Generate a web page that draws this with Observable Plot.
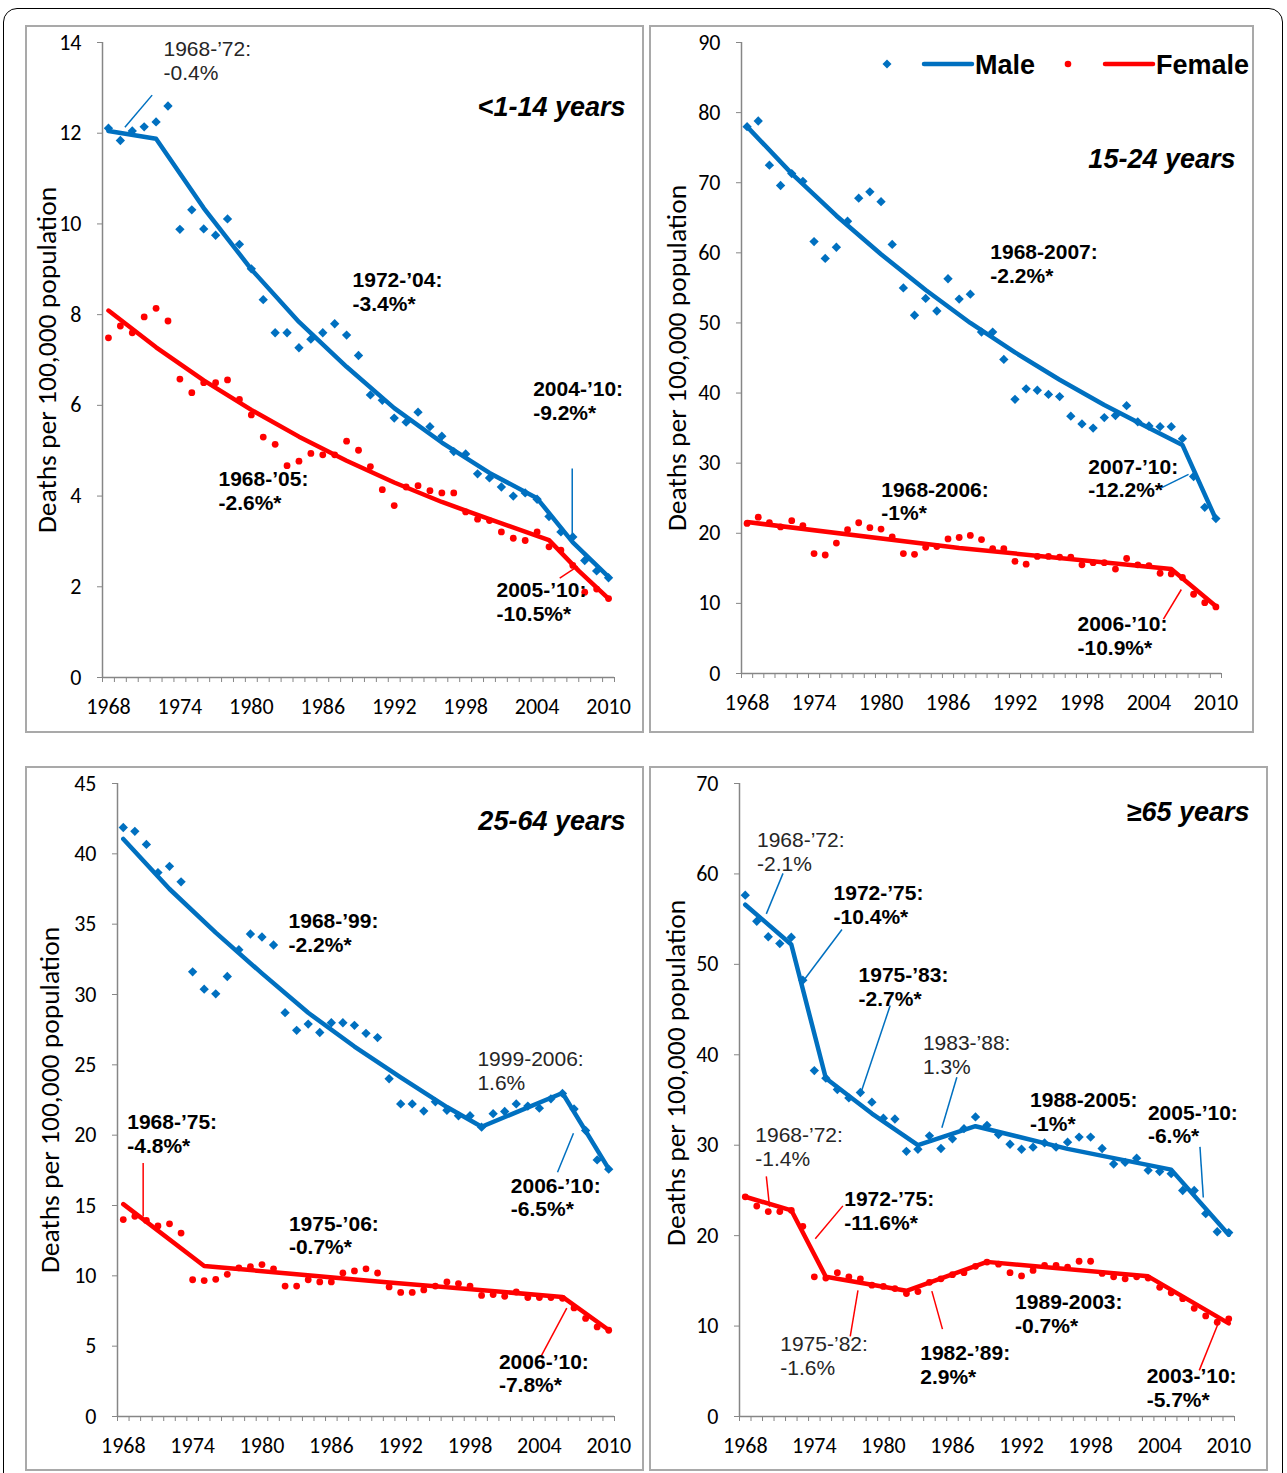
<!DOCTYPE html>
<html>
<head>
<meta charset="utf-8">
<script src="https://cdn.jsdelivr.net/npm/d3@7"></script>
<script src="https://cdn.jsdelivr.net/npm/@observablehq/plot@0.6"></script>
<style>
  body { margin: 0; background: #fff; }
  #fig { position: relative; width: 1287px; height: 1473px; overflow: hidden; background: #fff; }
  .outer { position: absolute; left: 3px; top: 8px; width: 1280px; height: 1500px; border: 1.5px solid #000; border-radius: 14px; box-sizing: border-box; }
  .panel { position: absolute; }
  .panel svg { position: absolute; left: 0; top: 0; }
  .frame { position: absolute; border: 2px solid #a9a9a9; box-sizing: border-box; pointer-events: none; }
  #legend { position: absolute; left: 860px; top: 44px; }
</style>
</head>
<body>
<div id="fig"><div class="outer"></div></div>
<script>
// ---------------- data ----------------
const years = d3.range(1968, 2011);
const xLabelYears = [1968, 1974, 1980, 1986, 1992, 1998, 2004, 2010];
const yAxisTitle = "Deaths per 100,000 population";

// Panel 1: <1-14 years
const male1 = [12.11,11.84,12.05,12.14,12.25,12.60,9.88,10.31,9.89,9.75,
  10.11,9.55,9.01,8.33,7.60,7.60,7.27,7.46,7.60,7.80,
  7.55,7.10,6.23,6.11,5.72,5.63,5.85,5.53,5.32,4.98,
  4.93,4.49,4.40,4.20,4.00,4.07,3.93,3.55,3.21,3.10,
  2.58,2.35,2.20];
const female1 = [7.49,7.75,7.60,7.95,8.14,7.86,6.58,6.28,6.50,6.50,
  6.56,6.13,5.79,5.30,5.14,4.67,4.77,4.94,4.91,4.91,
  5.21,5.01,4.65,4.14,3.79,4.20,4.23,4.12,4.07,4.07,
  3.65,3.49,3.46,3.21,3.07,3.02,3.21,2.88,2.81,2.47,
  1.88,1.95,1.74];
const fitMale1 = [[1968,12.05],[1972,11.88],[1976,10.35],[1980,9.0],[1984,7.84],[1988,6.85],[1992,5.94],[1996,5.18],[2000,4.51],[2004,3.95],[2007,2.98],[2010,2.22]];
const fitFemale1 = [[1968,8.09],[1972,7.28],[1976,6.55],[1980,5.90],[1984,5.31],[1988,4.78],[1992,4.30],[1996,3.87],[2000,3.49],[2005,3.03],[2007.5,2.35],[2010,1.74]];
const notes1 = [
  {x:1972.62, y:14.07, t:"1968-’72:\n-0.4%", b:false},
  {x:1988.5, y:8.99, t:"1972-’04:\n-3.4%*", b:true},
  {x:1977.24, y:4.59, t:"1968-’05:\n-2.6%*", b:true},
  {x:2003.67, y:6.59, t:"2004-’10:\n-9.2%*", b:true},
  {x:2000.59, y:2.14, t:"2005-’10:\n-10.5%*", b:true}
];
const leaders1 = [
  {x1:1971.67, y1:12.84, x2:1969.38, y2:12.13, s:"m"},
  {x1:2006.95, y1:4.61, x2:2006.95, y2:3.0, s:"m"},
  {x1:2005.9, y1:2.19, x2:2007.4, y2:2.45, s:"f"}
];

// Panel 2: 15-24 years
const male2 = [78.0,78.8,72.5,69.6,71.3,70.2,61.6,59.2,60.8,64.5,
  67.8,68.7,67.3,61.2,55.0,51.1,53.5,51.7,56.3,53.4,
  54.1,48.7,48.7,44.8,39.1,40.6,40.4,39.8,39.5,36.7,
  35.6,35.0,36.5,36.8,38.2,35.9,35.3,35.2,35.2,33.5,
  28.1,23.7,22.1];
const female2 = [21.4,22.3,21.5,20.9,21.8,21.1,17.1,16.9,18.6,20.5,
  21.5,20.8,20.6,19.5,17.1,17.0,18.0,18.1,19.2,19.4,
  19.7,19.1,17.8,17.8,16.0,15.6,16.7,16.7,16.6,16.6,
  15.5,15.8,15.8,14.9,16.4,15.5,15.4,14.3,14.2,13.7,
  11.3,10.1,9.5];
const fitMale2 = [[1968,78.0],[1972,71.3],[1976,65.3],[1980,59.8],[1984,54.7],[1988,50.0],[1992,45.8],[1996,41.9],[2000,38.3],[2004,35.0],[2007,32.6],[2010,22.0]];
const fitFemale2 = [[1968,21.6],[1987,17.9],[2006,14.9],[2010,9.6]];
const notes2 = [
  {x:1989.79, y:61.5, t:"1968-2007:\n-2.2%*", b:true},
  {x:1998.57, y:30.95, t:"2007-’10:\n-12.2%*", b:true},
  {x:1980.03, y:27.67, t:"1968-2006:\n-1%*", b:true},
  {x:1997.6, y:8.49, t:"2006-’10:\n-10.9%*", b:true}
];
const leaders2 = [
  {x1:2005.01, y1:26.4, x2:2007.55, y2:28.4, s:"m"},
  {x1:2005.3, y1:7.76, x2:2006.9, y2:11.98, s:"f"}
];

// Panel 3: 25-64 years
const male3 = [41.87,41.60,40.67,38.67,39.11,38.01,31.61,30.38,30.05,31.28,
  33.19,34.30,34.09,33.52,28.71,27.45,27.90,27.30,27.99,27.99,
  27.81,27.24,26.94,24.01,22.22,22.22,21.71,22.37,21.77,21.38,
  21.38,20.57,21.53,21.68,22.22,22.07,21.92,22.58,22.97,21.86,
  20.33,18.24,17.58];
const female3 = [14.0,14.23,13.94,13.55,13.70,13.04,9.72,9.66,9.75,10.11,
  10.56,10.65,10.80,10.50,9.27,9.27,9.72,9.57,9.57,10.20,
  10.35,10.50,10.20,9.21,8.82,8.82,9.00,9.27,9.57,9.45,
  9.27,8.61,8.67,8.55,8.85,8.46,8.46,8.46,8.40,7.72,
  6.97,6.37,6.13];
const fitMale3 = [[1968,41.06],[1972,37.5],[1976,34.4],[1980,31.5],[1984,28.7],[1988,26.3],[1992,24.1],[1996,22.0],[1999,20.6],[2006,23.0],[2010,17.6]];
const fitFemale3 = [[1968,15.1],[1975,10.7],[1990,9.6],[2006,8.5],[2010,6.15]];
const notes3 = [
  {x:1982.3, y:35.96, t:"1968-’99:\n-2.2%*", b:true},
  {x:1998.64, y:26.15, t:"1999-2006:\n1.6%", b:false},
  {x:2001.53, y:17.13, t:"2006-’10:\n-6.5%*", b:true},
  {x:1968.34, y:21.63, t:"1968-’75:\n-4.8%*", b:true},
  {x:1982.33, y:14.43, t:"1975-’06:\n-0.7%*", b:true},
  {x:2000.5, y:4.62, t:"2006-’10:\n-7.8%*", b:true}
];
const leaders3 = [
  {x1:2005.57, y1:17.37, x2:2006.95, y2:20.13, s:"m"},
  {x1:1969.72, y1:18.03, x2:1969.72, y2:14.22, s:"f"},
  {x1:2004.12, y1:4.24, x2:2006.37, y2:7.71, s:"f"}
];

// Panel 4: >=65 years
const male4 = [57.65,54.77,53.05,52.30,53.0,48.25,38.25,37.41,36.16,35.23,
  35.83,34.76,32.99,32.90,29.32,29.55,31.04,29.64,30.71,31.83,
  33.13,32.20,31.18,30.11,29.55,29.78,30.25,29.78,30.34,30.90,
  30.90,29.64,27.92,28.11,28.57,27.22,27.08,26.85,24.99,24.99,
  22.43,20.43,20.34];
const female4 = [24.29,23.27,22.66,22.66,22.80,21.03,15.45,15.31,15.91,15.45,
  15.22,14.52,14.38,14.15,13.59,13.82,14.84,15.22,15.68,15.91,
  16.61,17.08,16.85,15.91,15.54,16.15,16.71,16.71,16.52,17.17,
  17.17,15.82,15.45,15.22,15.45,15.31,14.29,13.68,13.03,11.96,
  11.12,10.42,10.80];
const fitMale4 = [[1968,56.6],[1972,52.2],[1975,37.4],[1979,33.5],[1983,30.0],[1988,32.1],[1996,29.6],[2005,27.3],[2010,20.1]];
const fitFemale4 = [[1968,24.3],[1972,22.8],[1975,15.45],[1982,13.9],[1989,17.1],[2003,15.5],[2010,10.3]];
const notes4 = [
  {x:1969.02, y:64.81, t:"1968-’72:\n-2.1%", b:false},
  {x:1975.67, y:58.98, t:"1972-’75:\n-10.4%*", b:true},
  {x:1977.84, y:49.88, t:"1975-’83:\n-2.7%*", b:true},
  {x:1983.43, y:42.42, t:"1983-’88:\n1.3%", b:false},
  {x:1968.87, y:32.25, t:"1968-’72:\n-1.4%", b:false},
  {x:1976.6, y:25.16, t:"1972-’75:\n-11.6%*", b:true},
  {x:1971.04, y:9.07, t:"1975-’82:\n-1.6%", b:false},
  {x:1983.2, y:8.13, t:"1982-’89:\n2.9%*", b:true},
  {x:1992.74, y:36.13, t:"1988-2005:\n-1%*", b:true},
  {x:2002.98, y:34.72, t:"2005-’10:\n-6.%*", b:true},
  {x:1991.44, y:13.72, t:"1989-2003:\n-0.7%*", b:true},
  {x:2002.87, y:5.56, t:"2003-’10:\n-5.7%*", b:true}
];
const leaders4 = [
  {x1:1971.28, y1:60.06, x2:1969.83, y2:55.58, s:"m"},
  {x1:1976.4, y1:53.85, x2:1973.01, y2:48.11, s:"m"},
  {x1:1980.59, y1:45.45, x2:1978.07, y2:35.88, s:"m"},
  {x1:1986.38, y1:37.52, x2:1985.08, y2:31.93, s:"m"},
  {x1:2007.5, y1:29.82, x2:2007.79, y2:24.22, s:"m"},
  {x1:1969.83, y1:26.56, x2:1970.11, y2:23.2, s:"f"},
  {x1:1976.48, y1:23.29, x2:1974.08, y2:19.65, s:"f"},
  {x1:1977.79, y1:13.96, x2:1977.12, y2:8.85, s:"f"},
  {x1:1984.21, y1:13.87, x2:1985.13, y2:9.66, s:"f"},
  {x1:2009.09, y1:10.32, x2:2007.44, y2:5.1, s:"f"}
];

// ---------------- styling ----------------
const BLUE = "#0070C0", RED = "#FF0000", AXIS = "#868686";
const TICK_FONT = "Carlito, Calibri, Lato, sans-serif";
const NOTE_FONT = "'Liberation Sans', Arial, sans-serif";

const panels = [
  {left:25, top:25, w:619, h:708, mL:77, mR:30, mT:17, mB:56, yMax:14, yStep:2, labelY:7, labelDx:-55,
   title:"<1-14 years", tdx:11, tdy:54, male:male1, female:female1, fitM:fitMale1, fitF:fitFemale1, notes:notes1, leaders:leaders1},
  {left:649, top:25, w:605, h:708, mL:92, mR:33, mT:17, mB:60, yMax:90, yStep:10, labelY:45, labelDx:-64,
   title:"15-24 years", tdx:14, tdy:106, male:male2, female:female2, fitM:fitMale2, fitF:fitFemale2, notes:notes2, leaders:leaders2},
  {left:25, top:766, w:619, h:705, mL:92, mR:30, mT:17, mB:55, yMax:45, yStep:5, labelY:22.5, labelDx:-67,
   title:"25-64 years", tdx:11, tdy:27, male:male3, female:female3, fitM:fitMale3, fitF:fitFemale3, notes:notes3, leaders:leaders3},
  {left:649, top:766, w:619, h:705, mL:90, mR:34, mT:17, mB:55, yMax:70, yStep:10, labelY:38, labelDx:-63,
   title:"≥65 years", tdx:15, tdy:18, male:male4, female:female4, fitM:fitMale4, fitF:fitFemale4, notes:notes4, leaders:leaders4}
];

function makePanel(p) {
  const maleRows = years.map((yr, i) => ({year: yr, v: p.male[i]}));
  const femaleRows = years.map((yr, i) => ({year: yr, v: p.female[i]}));
  const boundaries = d3.range(1967.5, 2011, 1);
  const noteStyle = {x: "x", y: "y", text: "t", textAnchor: "start", lineAnchor: "top",
    fontSize: 21, lineHeight: 1.14, fontFamily: NOTE_FONT};
  return Plot.plot({
    width: p.w, height: p.h,
    marginLeft: p.mL, marginRight: p.mR, marginTop: p.mT, marginBottom: p.mB,
    x: {domain: [1967.5, 2010.5]},
    y: {domain: [0, p.yMax]},
    style: {fontFamily: TICK_FONT, fontSize: "22px", background: "transparent", overflow: "visible", color: "#000"},
    marks: [
      Plot.axisX({ticks: boundaries, tickSize: 5, tickFormat: () => "", stroke: AXIS, label: null}),
      Plot.axisX({ticks: xLabelYears, tickSize: 0, tickPadding: 21, tickFormat: d => String(d), fill: "#000", fontSize: 22, label: null}),
      Plot.axisY({ticks: d3.range(0, p.yMax + 0.001, p.yStep), tickSize: 5, tickPadding: 16, stroke: AXIS, fill: "#000", fontSize: 22, label: null}),
      Plot.ruleX([1967.5], {y1: 0, y2: p.yMax, stroke: AXIS, strokeWidth: 1.5}),
      Plot.ruleY([0], {x1: 1967.5, x2: 2010.5, stroke: AXIS, strokeWidth: 1.5}),
      Plot.text([{t: yAxisTitle, v: p.labelY}], {text: "t", y: "v", frameAnchor: "left", textAnchor: "middle", lineAnchor: "middle",
        dx: p.labelDx, rotate: -90, fontSize: 27.5, fill: "#000"}),
      Plot.text([p.title], {text: d => d, frameAnchor: "top-right", textAnchor: "end", lineAnchor: "top", dx: p.tdx, dy: p.tdy,
        fontSize: 27, fontWeight: "bold", fontStyle: "italic", fontFamily: NOTE_FONT, fill: "#000"}),
      Plot.dot(maleRows, {x: "year", y: "v", symbol: "diamond2", r: 4.2, fill: BLUE, stroke: "none"}),
      Plot.dot(femaleRows, {x: "year", y: "v", r: 3.4, fill: RED, stroke: "none"}),
      Plot.line(p.fitM, {x: d => d[0], y: d => d[1], stroke: BLUE, strokeWidth: 4.5, strokeLinejoin: "round", strokeLinecap: "round"}),
      Plot.line(p.fitF, {x: d => d[0], y: d => d[1], stroke: RED, strokeWidth: 4.5, strokeLinejoin: "round", strokeLinecap: "round"}),
      Plot.link(p.leaders, {x1: "x1", y1: "y1", x2: "x2", y2: "y2", stroke: d => d.s === "m" ? BLUE : RED, strokeWidth: 1.5}),
      Plot.text(p.notes.filter(d => d.b), {...noteStyle, fontWeight: "bold", fill: "#000"}),
      Plot.text(p.notes.filter(d => !d.b), {...noteStyle, fontWeight: "normal", fill: "#262626"})
    ]
  });
}

const fig = document.getElementById("fig");
panels.forEach(p => {
  const div = document.createElement("div");
  div.className = "panel";
  Object.assign(div.style, {left: p.left + "px", top: p.top + "px", width: p.w + "px", height: p.h + "px"});
  div.appendChild(makePanel(p));
  fig.appendChild(div);
  const fr = document.createElement("div");
  fr.className = "frame";
  Object.assign(fr.style, {left: p.left + "px", top: p.top + "px", width: p.w + "px", height: p.h + "px"});
  fig.appendChild(fr);
});

// legend (in the 15-24 panel)
const legendItems = [
  {label: "Male", color: BLUE, sym: "diamond"},
  {label: "Female", color: RED, sym: "dot"}
];
const ns = "http://www.w3.org/2000/svg";
const lg = document.createElementNS(ns, "svg");
lg.setAttribute("id", "legend");
lg.setAttribute("width", 400); lg.setAttribute("height", 40);
const offsets = [0, 181];
legendItems.forEach((it, i) => {
  const ox = offsets[i];
  const g = document.createElementNS(ns, "g");
  g.setAttribute("transform", `translate(${ox},0)`);
  let s;
  if (it.sym === "diamond") {
    s = document.createElementNS(ns, "path");
    s.setAttribute("d", "M27,15.5L31.5,20L27,24.5L22.5,20Z");
  } else {
    s = document.createElementNS(ns, "circle");
    s.setAttribute("cx", 27); s.setAttribute("cy", 20); s.setAttribute("r", 3.3);
  }
  s.setAttribute("fill", it.color);
  g.appendChild(s);
  const ln = document.createElementNS(ns, "line");
  ln.setAttribute("x1", 64); ln.setAttribute("x2", 112); ln.setAttribute("y1", 20); ln.setAttribute("y2", 20);
  ln.setAttribute("stroke", it.color); ln.setAttribute("stroke-width", 4.5); ln.setAttribute("stroke-linecap", "round");
  g.appendChild(ln);
  const tx = document.createElementNS(ns, "text");
  tx.setAttribute("x", 115); tx.setAttribute("y", 29.5);
  tx.setAttribute("font-family", NOTE_FONT); tx.setAttribute("font-size", 27); tx.setAttribute("font-weight", "bold");
  tx.textContent = it.label;
  g.appendChild(tx);
  lg.appendChild(g);
});
fig.appendChild(lg);
</script>
</body>
</html>
